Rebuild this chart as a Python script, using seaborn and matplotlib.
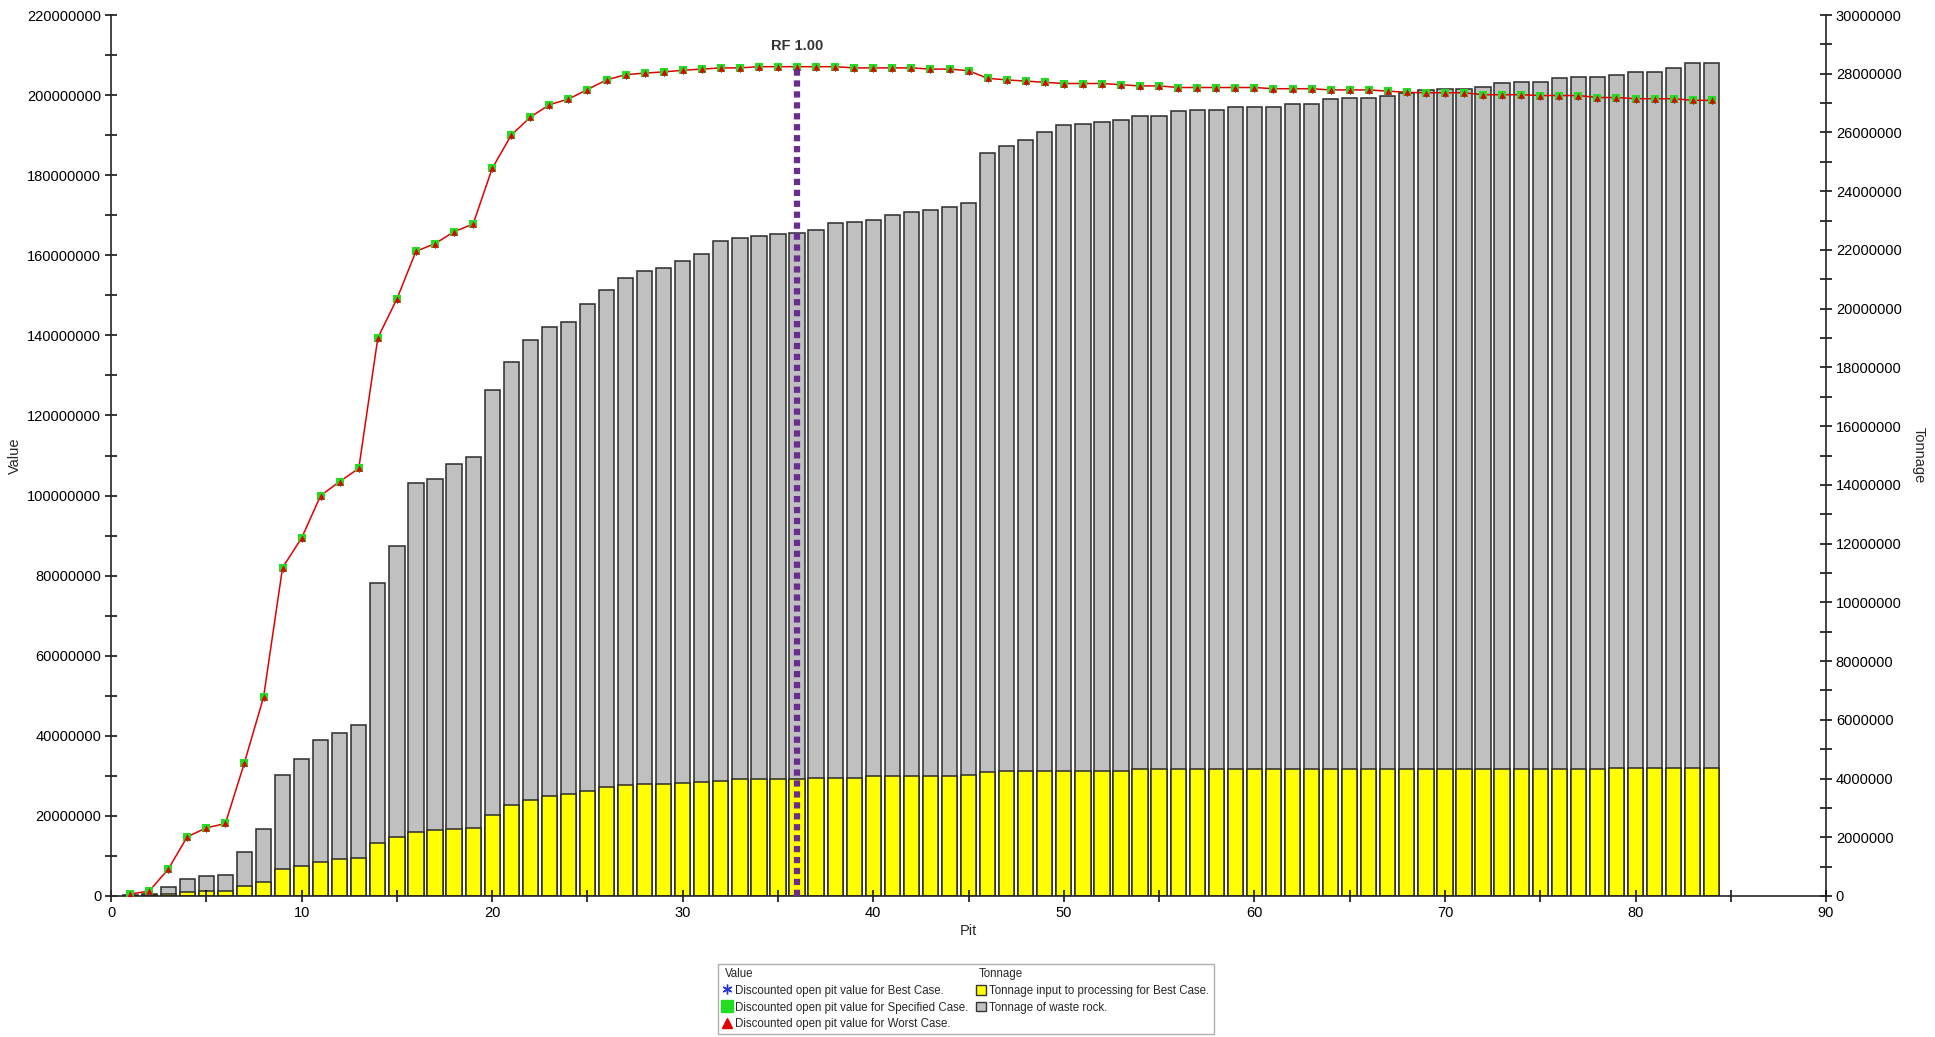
import matplotlib
matplotlib.use("Agg")
import matplotlib.pyplot as plt
from matplotlib.ticker import MultipleLocator, FuncFormatter
from matplotlib.lines import Line2D
from matplotlib.patches import Patch
import seaborn as sns

# pit shells
pits = list(range(1, 85))

# discounted open pit value, millions (the three cases overlap in the picture)
value_specified = [
    0.5, 1.2, 6.7, 14.8, 17.0, 18.1, 33.3, 49.6, 82.0, 89.4,
    100.0, 103.5, 106.8, 139.4, 149.1, 161.0, 162.9, 165.9, 167.8, 181.7,
    190.0, 194.5, 197.6, 199.0, 201.4, 203.8, 205.1, 205.5, 205.8, 206.2,
    206.5, 206.8, 206.8, 207.1, 207.1, 207.1, 207.1, 207.1, 206.8, 206.8,
    206.8, 206.8, 206.5, 206.5, 206.1, 204.2, 203.8, 203.5, 203.2, 202.9,
    202.9, 202.9, 202.6, 202.3, 202.3, 201.9, 201.9, 201.9, 201.9, 201.9,
    201.6, 201.6, 201.6, 201.3, 201.3, 201.3, 201.0, 200.7, 200.6, 200.6,
    200.6, 200.1, 200.1, 200.1, 199.9, 199.9, 199.9, 199.4, 199.4, 199.1,
    199.1, 199.1, 198.7, 198.7,
]
value_best = list(value_specified)
value_worst = list(value_specified)

# tonnage, millions
ore_tonnage = [
    0.01, 0.02, 0.06, 0.12, 0.18, 0.18, 0.34, 0.49, 0.91, 1.01,
    1.17, 1.25, 1.28, 1.82, 2.00, 2.19, 2.23, 2.27, 2.31, 2.77,
    3.10, 3.26, 3.40, 3.46, 3.58, 3.70, 3.77, 3.81, 3.81, 3.85,
    3.89, 3.93, 3.97, 3.97, 3.97, 3.99, 4.01, 4.01, 4.01, 4.07,
    4.07, 4.07, 4.07, 4.07, 4.11, 4.23, 4.27, 4.27, 4.27, 4.27,
    4.27, 4.27, 4.27, 4.31, 4.31, 4.31, 4.31, 4.31, 4.31, 4.31,
    4.31, 4.31, 4.31, 4.31, 4.31, 4.31, 4.31, 4.31, 4.31, 4.31,
    4.31, 4.31, 4.31, 4.31, 4.31, 4.31, 4.31, 4.31, 4.35, 4.35,
    4.35, 4.35, 4.35, 4.35,
]
total_tonnage = [
    0.02, 0.05, 0.30, 0.57, 0.67, 0.71, 1.50, 2.27, 4.13, 4.66,
    5.32, 5.55, 5.81, 10.67, 11.92, 14.05, 14.21, 14.70, 14.96, 17.23,
    18.20, 18.95, 19.36, 19.53, 20.16, 20.65, 21.03, 21.28, 21.40, 21.64,
    21.86, 22.31, 22.41, 22.49, 22.53, 22.57, 22.69, 22.91, 22.94, 23.02,
    23.20, 23.28, 23.36, 23.46, 23.60, 25.31, 25.55, 25.73, 26.01, 26.25,
    26.30, 26.36, 26.44, 26.56, 26.56, 26.72, 26.78, 26.78, 26.86, 26.86,
    26.86, 26.98, 26.98, 27.13, 27.19, 27.19, 27.25, 27.35, 27.45, 27.49,
    27.49, 27.55, 27.69, 27.71, 27.71, 27.85, 27.89, 27.89, 27.96, 28.06,
    28.06, 28.18, 28.36, 28.36,
]

rf_pit = 36
rf_label = "RF 1.00"

sns.set_style("ticks")
plt.rcParams['font.family'] = ['Liberation Sans', 'DejaVu Sans']

fig = plt.figure(figsize=(19.35, 10.37), dpi=100)
ax = fig.add_axes([0.0574, 0.136, 0.8863, 0.8495])
ax2 = ax.twinx()

# stacked bars: full pit tonnage in grey, ore part in yellow over it
sns.barplot(x=pits, y=total_tonnage, native_scale=True, color="#C0C0C0", saturation=1,
            edgecolor="#2b2b2b", linewidth=1.1, width=0.8, errorbar=None, ax=ax2)
sns.barplot(x=pits, y=ore_tonnage, native_scale=True, color="#FFFF00", saturation=1,
            edgecolor="#2b2b2b", linewidth=1.1, width=0.8, errorbar=None, ax=ax2)

# value lines on top
ax.set_zorder(ax2.get_zorder() + 1)
ax.patch.set_visible(False)
sns.scatterplot(x=pits, y=value_best, marker=(6, 2, 0), color="#2233dd", s=25, linewidth=0.8, ax=ax, zorder=3)
sns.lineplot(x=pits, y=value_worst, color="#e00000", linewidth=1.1, ax=ax, zorder=4)
sns.scatterplot(x=pits, y=value_specified, marker="s", color="#22dd22", s=30, linewidth=0, ax=ax, zorder=5)
sns.scatterplot(x=pits, y=value_worst, marker="^", color="#e00000", s=22, linewidth=0, ax=ax, zorder=6)

# revenue factor marker
rf_value = value_specified[pits.index(rf_pit)]
ax.plot([rf_pit, rf_pit], [0, rf_value], color="#6a2c91", linewidth=4.5,
        linestyle=(0, (1, 0.75)), solid_capstyle="butt", zorder=7)
ax.annotate(rf_label, xy=(rf_pit, rf_value), xytext=(0, 15), textcoords="offset points",
            ha="center", va="center", fontsize=10.5, fontweight="bold", color="#333333")

# axes
ax.set_xlim(0, 90)
ax.set_ylim(0, 220)
ax2.set_ylim(0, 30)
fmt = FuncFormatter(lambda v, p: f"{v * 1e6:.0f}")
ax.yaxis.set_major_locator(MultipleLocator(20))
ax.yaxis.set_minor_locator(MultipleLocator(10))
ax.yaxis.set_major_formatter(fmt)
ax2.yaxis.set_major_locator(MultipleLocator(2))
ax2.yaxis.set_minor_locator(MultipleLocator(1))
ax2.yaxis.set_major_formatter(fmt)
ax.xaxis.set_major_locator(MultipleLocator(10))
ax.xaxis.set_minor_locator(MultipleLocator(5))
ax.xaxis.set_major_formatter(FuncFormatter(lambda v, p: f"{v:.0f}"))

for a in (ax, ax2):
    a.tick_params(which="both", direction="inout", length=8, width=1.1, labelsize=10.5,
                  colors="black", pad=3)
    a.spines["top"].set_visible(False)
    for s in a.spines.values():
        s.set_linewidth(1.2)
ax.spines["right"].set_visible(False)
ax2.spines["left"].set_visible(False)
ax2.spines["bottom"].set_visible(False)

ax.set_xlabel("Pit", fontsize=10.5)
ax.set_ylabel("Value", fontsize=10.5)
ax2.set_ylabel("Tonnage", fontsize=10.5, rotation=270, va="bottom")
ax.xaxis.set_label_coords(0.5, -0.032)
ax.yaxis.set_label_coords(-0.052, 0.5)
ax2.yaxis.set_label_coords(1.05, 0.5)

# legend with two headed columns
blank = Line2D([], [], linestyle="none")
handles = [
    blank,
    Line2D([], [], linestyle="none", marker=(6, 2, 0), color="#2233dd", markersize=7, markeredgewidth=1),
    Line2D([], [], linestyle="none", marker="s", color="#22dd22", markersize=8),
    Line2D([], [], linestyle="none", marker="^", color="#e00000", markersize=7),
    blank,
    Patch(facecolor="#FFFF00", edgecolor="#333333"),
    Patch(facecolor="#C0C0C0", edgecolor="#333333"),
    blank,
]
labels = [
    "Value",
    "Discounted open pit value for Best Case.",
    "Discounted open pit value for Specified Case.",
    "Discounted open pit value for Worst Case.",
    "Tonnage",
    "Tonnage input to processing for Best Case.",
    "Tonnage of waste rock.",
    "",
]
leg = fig.legend(handles, labels, ncol=2, loc="upper center", bbox_to_anchor=(0.499, 0.0705),
                 fontsize=8.3, frameon=True, fancybox=False, framealpha=1, edgecolor="#b0b0b0",
                 handlelength=0.9, handleheight=0.9, handletextpad=0.3, columnspacing=0.6,
                 labelspacing=0.42, borderpad=0.35, borderaxespad=0)
leg.get_frame().set_linewidth(1.0)
for col in leg._legend_handle_box.get_children():
    col.get_children()[0].get_children()[0].set_width(0)

plt.savefig("out.png", dpi=100)
plt.close()
